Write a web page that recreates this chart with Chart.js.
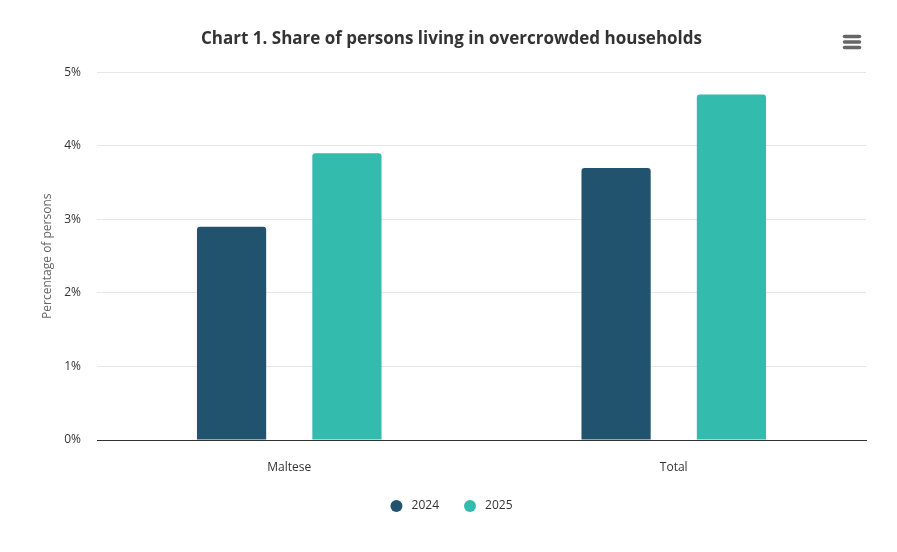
<!DOCTYPE html>
<html lang="en">
<head>
    <meta charset="UTF-8">
    <title>Chart 1. Share of persons living in overcrowded households</title>
    <script src="https://cdn.jsdelivr.net/npm/chart.js"></script>
    <style>
        html, body { margin: 0; padding: 0; background: #fff; }
        .wrap { position: relative; width: 897px; height: 552px; }
    </style>
</head>
<body>
    <div class="wrap">
        <canvas id="chart"></canvas>
    </div>
</body>
</html>
<script>
const categories = ['Maltese', 'Total'];
const seriesNames = ['2024', '2025'];
const values2024 = [2.9, 3.7];
const values2025 = [3.9, 4.7];
const yTicks = [0, 1, 2, 3, 4, 5];

const colors = ['#21526e', '#33bbad'];
const fontFamily = '"Open Sans", "Noto Sans", sans-serif';

// hamburger menu icon like the exporting button
const menuIcon = {
    id: 'menuIcon',
    afterDraw(chart) {
        const ctx = chart.ctx;
        ctx.save();
        ctx.strokeStyle = '#666';
        ctx.lineWidth = 3.5;
        ctx.lineCap = 'round';
        [36.5, 42, 47.5].forEach(y => {
            ctx.beginPath();
            ctx.moveTo(844.5, y);
            ctx.lineTo(859.5, y);
            ctx.stroke();
        });
        ctx.restore();
    }
};

new Chart(document.getElementById('chart').getContext('2d'), {
    type: 'bar',
    data: {
        labels: categories,
        datasets: [
            { label: seriesNames[0], data: values2024, backgroundColor: colors[0] },
            { label: seriesNames[1], data: values2025, backgroundColor: colors[1] }
        ]
    },
    options: {
        responsive: true,
        maintainAspectRatio: false,
        animation: false,
        layout: { padding: { left: 33, right: 27, top: 14, bottom: 30 } },
        datasets: {
            bar: {
                categoryPercentage: 0.6,
                barPercentage: 0.6,
                borderRadius: { topLeft: 3, topRight: 3 },
                borderSkipped: 'bottom'
            }
        },
        plugins: {
            title: {
                display: true,
                text: 'Chart 1. Share of persons living in overcrowded households',
                color: '#333',
                font: { family: fontFamily, size: 17, weight: 'bold' },
                padding: { top: 15, bottom: 23 }
            },
            legend: {
                position: 'bottom',
                labels: {
                    usePointStyle: true,
                    pointStyle: 'circle',
                    boxWidth: 12,
                    boxHeight: 8.5,
                    padding: 25,
                    color: '#333',
                    font: { family: fontFamily, size: 12 },
                    // a little more room between the dot and the text
                    generateLabels(chart) {
                        const items = Chart.defaults.plugins.legend.labels.generateLabels(chart);
                        items.forEach(item => { item.text = ' ' + item.text; });
                        return items;
                    }
                }
            },
            tooltip: { enabled: false }
        },
        scales: {
            x: {
                grid: { display: false },
                border: { color: '#333', width: 1 },
                ticks: { color: '#333', padding: 12, font: { family: fontFamily, size: 12 } },
                afterFit(scale) { scale.height = 35; }
            },
            y: {
                min: yTicks[0],
                max: yTicks[yTicks.length - 1],
                afterBuildTicks(scale) {
                    scale.ticks = yTicks.map(v => ({ value: v }));
                },
                afterFit(scale) { scale.width = 64; },
                grid: { color: '#e6e6e6', drawTicks: false },
                border: { display: false },
                ticks: {
                    color: '#333',
                    padding: 16,
                    font: { family: fontFamily, size: 12 },
                    callback: v => v + '%'
                },
                title: {
                    display: true,
                    text: 'Percentage of persons',
                    color: '#666',
                    padding: { top: 7, bottom: 0 },
                    font: { family: fontFamily, size: 12 }
                }
            },
            // empty spacer on the right so the plot ends where the original does
            spacer: {
                axis: 'y',
                position: 'right',
                grid: { display: false, drawTicks: false },
                border: { display: false },
                ticks: { display: false },
                afterFit(scale) { scale.width = 4; }
            }
        }
    },
    plugins: [menuIcon]
});
</script>
